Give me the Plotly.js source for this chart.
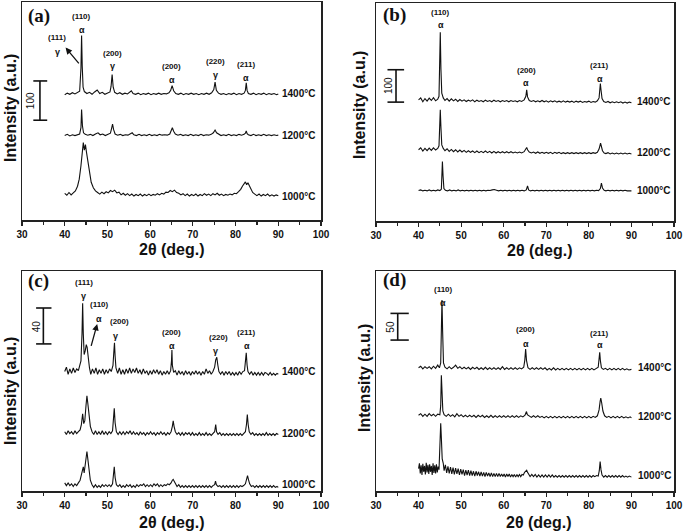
<!DOCTYPE html>
<html><head><meta charset="utf-8">
<script src="https://cdn.plot.ly/plotly-3.0.1.min.js"></script>
<style>html,body{margin:0;padding:0;background:#fff}#chart{width:685px;height:531px}</style>
</head><body><div id="chart"></div>
<script>
// ---------- data: [2theta, intensity (a.u., offset-stacked)] ----------
const a1400 = [[40,319],[40.6,323],[41.2,320],[41.8,324],[42.4,321],[43,324],[43.5,328],[43.8,386],[43.95,470],[44.1,392],[44.3,338],[44.6,327],[45.2,322],[45.8,325],[46.4,320],[47,326],[47.6,331],[48.2,322],[48.8,325],[49.4,320],[50,323],[50.6,326],[50.85,340],[51.1,370],[51.35,338],[51.7,325],[52.3,321],[52.9,324],[53.5,320],[54.1,323],[54.7,321],[55.3,325],[55.6,329],[56,322],[56.6,320],[57.2,323],[57.8,319],[58.4,322],[59,320],[59.6,323],[60.2,319],[60.8,322],[61.4,320],[62,323],[62.6,320],[63.2,322],[63.8,321],[64.4,324],[64.8,330],[65.15,342],[65.5,329],[66,322],[66.6,320],[67.2,323],[67.8,319],[68.4,322],[69,320],[69.6,323],[70.2,320],[70.8,322],[71.4,319],[72,322],[72.6,320],[73.2,323],[73.8,320],[74.4,324],[74.9,332],[75.2,351],[75.5,330],[76,323],[76.6,320],[77.2,322],[77.8,319],[78.4,322],[79,320],[79.6,323],[80.2,319],[80.8,322],[81.4,320],[82,323],[82.3,330],[82.5,349],[82.7,330],[83,322],[83.6,320],[84.2,323],[84.8,319],[85.4,322],[86,320],[86.6,323],[87.2,319],[87.8,322],[88.4,320],[89,322],[89.6,319],[90,321]];
const a1200 = [[40,215],[40.6,218],[41.2,214],[41.8,217],[42.4,215],[43,218],[43.5,219],[43.8,235],[43.95,281],[44.15,240],[44.4,222],[44.8,218],[45.4,216],[46,218],[46.6,215],[47.2,219],[47.8,222],[48.3,217],[48.9,219],[49.5,215],[50.1,218],[50.7,221],[50.95,232],[51.2,244],[51.45,230],[51.8,219],[52.4,216],[53,218],[53.6,215],[54.2,217],[54.8,216],[55.4,220],[55.8,222],[56.2,217],[56.8,215],[57.4,218],[58,215],[58.6,217],[59.2,215],[59.8,218],[60.4,215],[61,217],[61.6,215],[62.2,218],[62.8,216],[63.4,217],[64,216],[64.6,219],[64.9,226],[65.2,235],[65.5,226],[65.9,219],[66.5,216],[67.1,218],[67.7,215],[68.3,217],[68.9,215],[69.5,218],[70.1,215],[70.7,217],[71.3,215],[71.9,218],[72.5,215],[73.1,217],[73.7,216],[74.3,218],[74.8,222],[75.2,229],[75.55,222],[76,218],[76.6,215],[77.2,217],[77.8,215],[78.4,218],[79,215],[79.6,217],[80.2,215],[80.8,218],[81.4,216],[82,218],[82.3,221],[82.5,227],[82.7,220],[83,217],[83.6,215],[84.2,218],[84.8,215],[85.4,217],[86,215],[86.6,218],[87.2,215],[87.8,217],[88.4,215],[89,217],[89.6,215],[90,216]];
const a1000 = [[40,68],[40.5,63],[41,70],[41.5,64],[42,69],[42.5,74],[43,86],[43.4,104],[43.8,138],[44.1,170],[44.35,197],[44.6,178],[44.85,192],[45.1,172],[45.4,148],[45.8,118],[46.2,96],[46.7,82],[47.2,74],[47.7,70],[48.2,66],[48.7,71],[49.2,67],[49.7,72],[50.2,69],[50.7,75],[51.2,72],[51.7,76],[52.2,69],[52.7,71],[53.2,64],[53.7,68],[54.2,63],[54.7,67],[55.2,62],[55.7,66],[56.2,61],[56.7,65],[57.2,62],[57.7,66],[58.2,61],[58.7,65],[59.2,62],[59.7,66],[60.2,62],[60.7,65],[61.2,63],[61.7,67],[62.2,64],[62.7,68],[63.2,66],[63.7,71],[64.2,70],[64.7,75],[65.2,72],[65.7,76],[66.2,70],[66.7,68],[67.2,64],[67.7,67],[68.2,62],[68.7,66],[69.2,61],[69.7,65],[70.2,62],[70.7,66],[71.2,61],[71.7,65],[72.2,62],[72.7,67],[73.2,63],[73.7,66],[74.2,62],[74.7,67],[75.2,64],[75.7,68],[76.2,63],[76.7,66],[77.2,62],[77.7,65],[78.2,63],[78.7,66],[79.2,64],[79.7,68],[80.2,67],[80.7,72],[81.2,78],[81.6,86],[82,92],[82.3,97],[82.6,90],[82.9,95],[83.2,88],[83.6,78],[84,70],[84.5,66],[85,62],[85.5,66],[86,61],[86.5,65],[87,62],[87.5,66],[88,61],[88.5,64],[89,61],[89.5,64],[90,62]];

const b1400 = [[40,374],[40.5,380],[41,368],[41.5,378],[42,370],[42.5,379],[43,372],[43.5,381],[44,371],[44.5,376],[44.8,385],[45.0,470],[45.1,583],[45.25,470],[45.45,395],[45.8,380],[46.2,372],[46.7,378],[47.2,370],[47.7,377],[48.2,371],[48.7,376],[49.2,369],[49.7,375],[50.2,370],[50.7,374],[51.2,369],[51.7,373],[52.2,370],[52.7,374],[53.2,368],[53.7,373],[54.2,369],[54.7,372],[55.2,368],[55.7,373],[56.2,369],[56.7,372],[57.2,368],[57.7,373],[58.2,369],[58.7,372],[59.2,368],[59.7,372],[60.2,369],[60.7,372],[61.2,368],[61.7,372],[62.2,369],[62.7,371],[63.2,368],[63.7,372],[64.2,369],[64.8,374],[65.2,385],[65.4,405],[65.6,383],[66,372],[66.5,369],[67,372],[67.5,368],[68,371],[68.5,368],[69,372],[69.5,368],[70,371],[70.5,367],[71,371],[71.5,368],[72,371],[72.5,367],[73,370],[73.5,367],[74,371],[74.5,367],[75,370],[75.5,367],[76,370],[76.5,366],[77,370],[77.5,367],[78,370],[78.5,366],[79,369],[79.5,367],[80,370],[80.5,366],[81,369],[81.5,367],[82,371],[82.4,380],[82.6,410],[82.7,424],[82.85,405],[83.1,378],[83.5,369],[84,366],[84.5,369],[85,365],[85.5,368],[86,365],[86.5,368],[87,365],[87.5,368],[88,364],[88.5,367],[89,364],[89.5,367],[90,365]];
const b1200 = [[40,220],[40.5,226],[41,216],[41.5,224],[42,217],[42.5,225],[43,218],[43.5,226],[44,219],[44.5,224],[44.8,232],[45.0,290],[45.1,343],[45.25,290],[45.45,235],[45.8,224],[46.2,217],[46.7,223],[47.2,215],[47.7,221],[48.2,214],[48.7,220],[49.2,213],[49.7,219],[50.2,213],[50.7,218],[51.2,212],[51.7,217],[52.2,212],[52.7,216],[53.2,211],[53.7,216],[54.2,211],[54.7,215],[55.2,211],[55.7,216],[56.2,211],[56.7,215],[57.2,210],[57.7,215],[58.2,210],[58.7,214],[59.2,210],[59.7,214],[60.2,210],[60.7,214],[61.2,210],[61.7,214],[62.2,210],[62.7,213],[63.2,210],[63.7,213],[64.2,210],[64.8,214],[65.2,221],[65.4,227],[65.6,220],[66,213],[66.5,210],[67,213],[67.5,209],[68,213],[68.5,209],[69,212],[69.5,209],[70,212],[70.5,209],[71,212],[71.5,208],[72,212],[72.5,209],[73,212],[73.5,208],[74,211],[74.5,208],[75,211],[75.5,208],[76,211],[76.5,208],[77,211],[77.5,208],[78,211],[78.5,208],[79,211],[79.5,208],[80,211],[80.5,208],[81,211],[81.5,209],[82,212],[82.4,222],[82.6,234],[82.75,240],[82.95,230],[83.2,217],[83.6,210],[84,208],[84.5,211],[85,207],[85.5,210],[86,207],[86.5,210],[87,207],[87.5,210],[88,207],[88.5,210],[89,207],[89.5,209],[90,207]];
const b1000 = [[40,94],[40.5,96],[41,93],[41.5,95],[42,93],[42.5,96],[43,93],[43.5,95],[44,93],[44.5,96],[45,94],[45.35,98],[45.5,150],[45.6,184],[45.75,140],[45.95,100],[46.3,95],[46.8,93],[47.3,96],[47.8,93],[48.3,95],[48.8,93],[49.3,96],[49.8,93],[50.3,95],[50.8,93],[51.3,95],[51.8,93],[52.3,95],[52.8,93],[53.3,95],[53.8,93],[54.3,95],[54.8,93],[55.3,95],[55.8,93],[56.3,95],[56.8,94],[57.3,96],[57.8,97],[58.3,95],[58.8,93],[59.3,95],[59.8,93],[60.3,95],[60.8,93],[61.3,95],[61.8,93],[62.3,95],[62.8,93],[63.3,95],[63.8,93],[64.3,95],[64.8,93],[65.3,96],[65.6,108],[65.85,96],[66.3,93],[66.8,95],[67.3,93],[67.8,95],[68.3,93],[68.8,95],[69.3,93],[69.8,95],[70.3,93],[70.8,95],[71.3,93],[71.8,95],[72.3,93],[72.8,95],[73.3,93],[73.8,95],[74.3,93],[74.8,95],[75.3,93],[75.8,95],[76.3,93],[76.8,95],[77.3,93],[77.8,95],[78.3,93],[78.8,95],[79.3,93],[79.8,95],[80.3,93],[80.8,95],[81.3,93],[81.8,95],[82.3,94],[82.7,100],[82.95,117],[83.2,102],[83.6,95],[84,93],[84.5,95],[85,93],[85.5,95],[86,93],[86.5,95],[87,93],[87.5,95],[88,93],[88.5,95],[89,93],[89.5,94],[90,93]];

const c1400 = [[40,133],[40.4,138],[40.8,130],[41.2,136],[41.6,131],[42,137],[42.4,132],[42.8,136],[43.2,134],[43.5,139],[43.8,145],[44.05,175],[44.2,209],[44.35,175],[44.55,152],[44.8,156],[45.05,163],[45.25,160],[45.5,145],[45.8,137],[46.1,130],[46.5,136],[46.9,131],[47.3,137],[47.7,130],[48.1,135],[48.5,131],[48.9,136],[49.3,130],[49.7,135],[50.1,131],[50.5,136],[50.9,133],[51.3,140],[51.5,155],[51.65,165],[51.8,150],[52.0,137],[52.4,131],[52.8,137],[53.2,130],[53.6,135],[54,130],[54.4,136],[54.8,131],[55.2,137],[55.6,131],[56,136],[56.4,132],[56.8,137],[57.2,131],[57.6,135],[58,130],[58.4,136],[58.8,131],[59.2,134],[59.6,129],[60,134],[60.4,130],[60.8,135],[61.2,131],[61.6,135],[62,130],[62.4,134],[62.8,129],[63.2,133],[63.6,130],[64,134],[64.4,130],[64.8,134],[65.0,145],[65.1,157],[65.2,140],[65.5,132],[65.9,134],[66.3,129],[66.7,134],[67.1,130],[67.5,133],[67.9,129],[68.3,134],[68.7,130],[69.1,133],[69.5,129],[69.9,133],[70.3,130],[70.7,134],[71.1,130],[71.5,133],[71.9,129],[72.3,133],[72.7,130],[73.1,136],[73.5,131],[73.9,134],[74.3,130],[74.7,133],[75.1,138],[75.35,146],[75.6,149],[75.85,140],[76.1,133],[76.5,130],[76.9,133],[77.3,129],[77.7,133],[78.1,130],[78.5,133],[78.9,129],[79.3,132],[79.7,129],[80.1,132],[80.5,129],[80.9,133],[81.3,130],[81.7,133],[82.1,134],[82.3,142],[82.5,154],[82.7,140],[82.9,133],[83.3,130],[83.7,133],[84.1,129],[84.5,132],[84.9,129],[85.3,132],[85.7,129],[86.1,132],[86.5,129],[86.9,132],[87.3,131],[87.7,129],[88.1,132],[88.5,129],[88.9,131],[89.3,129],[89.7,131],[90,130]];
const c1200 = [[40,66],[40.4,63],[40.8,67],[41.2,64],[41.6,66],[42,63],[42.4,67],[42.8,64],[43.2,66],[43.6,68],[43.9,74],[44.2,86],[44.45,75],[44.7,78],[45.0,96],[45.2,106],[45.4,98],[45.7,82],[46.0,72],[46.4,66],[46.8,63],[47.2,67],[47.6,63],[48,66],[48.4,63],[48.8,67],[49.2,63],[49.6,66],[50,63],[50.4,66],[50.8,64],[51.2,67],[51.45,80],[51.6,92],[51.8,76],[52.1,66],[52.5,63],[52.9,66],[53.3,63],[53.7,66],[54.1,63],[54.5,66],[54.9,64],[55.3,67],[55.7,63],[56.1,66],[56.5,63],[56.9,65],[57.3,62],[57.7,66],[58.1,63],[58.5,65],[58.9,62],[59.3,65],[59.7,63],[60.1,66],[60.5,63],[60.9,65],[61.3,62],[61.7,65],[62.1,63],[62.5,66],[62.9,63],[63.3,65],[63.7,62],[64.1,65],[64.5,63],[64.9,66],[65.2,72],[65.4,78],[65.6,72],[65.9,66],[66.3,63],[66.7,65],[67.1,62],[67.5,65],[67.9,62],[68.3,65],[68.7,63],[69.1,65],[69.5,62],[69.9,65],[70.3,62],[70.7,64],[71.1,62],[71.5,65],[71.9,62],[72.3,64],[72.7,62],[73.1,65],[73.5,62],[73.9,64],[74.3,62],[74.7,64],[75.1,66],[75.35,74],[75.55,66],[75.9,63],[76.3,65],[76.7,62],[77.1,64],[77.5,62],[77.9,64],[78.3,62],[78.7,64],[79.1,62],[79.5,64],[79.9,62],[80.3,64],[80.7,62],[81.1,64],[81.5,62],[81.9,64],[82.3,66],[82.55,74],[82.75,85],[82.95,74],[83.2,66],[83.6,63],[84,65],[84.4,62],[84.8,64],[85.2,62],[85.6,64],[86,62],[86.4,64],[86.8,62],[87.2,65],[87.6,62],[88,64],[88.4,62],[88.8,64],[89.2,62],[89.6,64],[90,63]];
const c1000 = [[40,9],[40.4,6],[40.8,9],[41.2,6],[41.6,8],[42,5],[42.4,8],[42.8,6],[43.2,9],[43.6,12],[43.9,18],[44.2,25],[44.35,27],[44.55,20],[44.8,28],[45.0,38],[45.2,44],[45.4,36],[45.7,22],[46.0,12],[46.4,7],[46.8,4],[47.2,7],[47.6,4],[48,6],[48.4,4],[48.8,7],[49.2,5],[49.6,7],[50,5],[50.4,7],[50.8,5],[51.2,8],[51.45,18],[51.6,27],[51.8,15],[52.1,7],[52.5,5],[52.9,7],[53.3,4],[53.7,6],[54.1,4],[54.5,7],[54.9,5],[55.3,7],[55.7,4],[56.1,6],[56.5,4],[56.9,7],[57.3,5],[57.7,7],[58.1,6],[58.5,8],[58.9,5],[59.3,7],[59.7,5],[60.1,7],[60.5,5],[60.9,8],[61.3,6],[61.7,8],[62.1,5],[62.5,7],[62.9,5],[63.3,7],[63.7,6],[64.1,8],[64.5,7],[64.9,9],[65.2,12],[65.4,13],[65.6,11],[65.9,8],[66.3,5],[66.7,7],[67.1,4],[67.5,6],[67.9,4],[68.3,6],[68.7,4],[69.1,6],[69.5,4],[69.9,6],[70.3,4],[70.7,6],[71.1,4],[71.5,6],[71.9,4],[72.3,6],[72.7,4],[73.1,6],[73.5,4],[73.9,6],[74.3,4],[74.7,6],[75.1,7],[75.3,11],[75.5,7],[75.9,5],[76.3,6],[76.7,4],[77.1,6],[77.5,4],[77.9,6],[78.3,4],[78.7,6],[79.1,4],[79.5,6],[79.9,4],[80.3,6],[80.7,4],[81.1,6],[81.5,5],[81.9,6],[82.3,8],[82.55,12],[82.8,17],[83.0,13],[83.3,8],[83.7,5],[84.1,6],[84.5,4],[84.9,6],[85.3,4],[85.7,6],[86.1,4],[86.5,6],[86.9,4],[87.3,6],[87.7,4],[88.1,6],[88.5,4],[88.9,6],[89.3,4],[89.7,5],[90,4]];

const d1400 = [[40,231],[40.5,234],[41,229],[41.5,233],[42,230],[42.5,233],[43,229],[43.5,234],[44,230],[44.5,236],[44.9,231],[45.2,240],[45.4,320],[45.5,358],[45.65,300],[45.85,240],[46.2,232],[46.7,229],[47.2,233],[47.7,229],[48.2,232],[48.7,236],[49.2,230],[49.7,233],[50.2,229],[50.7,232],[51.2,229],[51.7,232],[52.2,228],[52.7,232],[53.2,229],[53.7,232],[54.2,228],[54.7,231],[55.2,228],[55.7,232],[56.2,228],[56.7,231],[57.2,228],[57.7,231],[58.2,228],[58.7,231],[59.2,228],[59.7,233],[60.2,228],[60.7,231],[61.2,228],[61.7,231],[62.2,228],[62.7,231],[63.2,228],[63.7,231],[64.2,229],[64.7,232],[64.95,245],[65.15,266],[65.35,245],[65.7,231],[66.2,228],[66.7,231],[67.2,228],[67.7,231],[68.2,228],[68.7,231],[69.2,228],[69.7,231],[70.2,227],[70.7,230],[71.2,227],[71.7,231],[72.2,227],[72.7,230],[73.2,227],[73.7,230],[74.2,227],[74.7,230],[75.2,227],[75.7,230],[76.2,227],[76.7,230],[77.2,227],[77.7,230],[78.2,227],[78.7,230],[79.2,227],[79.7,230],[80.2,227],[80.7,230],[81.2,227],[81.7,230],[82.2,232],[82.4,248],[82.55,260],[82.7,245],[82.95,231],[83.4,228],[83.9,230],[84.4,227],[84.9,230],[85.4,227],[85.9,230],[86.4,227],[86.9,230],[87.4,227],[87.9,230],[88.4,227],[88.9,229],[89.4,227],[90,228]];
const d1200 = [[40,142],[40.5,145],[41,140],[41.5,144],[42,140],[42.5,145],[43,141],[43.5,144],[44,140],[44.5,144],[45,143],[45.2,160],[45.35,217],[45.5,190],[45.7,150],[46,143],[46.5,140],[47,144],[47.5,140],[48,143],[48.5,139],[49,145],[49.5,140],[50,143],[50.5,139],[51,142],[51.5,139],[52,142],[52.5,139],[53,142],[53.5,138],[54,142],[54.5,139],[55,142],[55.5,138],[56,141],[56.5,138],[57,142],[57.5,138],[58,141],[58.5,138],[59,141],[59.5,138],[60,141],[60.5,138],[61,141],[61.5,138],[62,141],[62.5,138],[63,141],[63.5,138],[64,141],[64.5,139],[65,142],[65.2,146],[65.35,149],[65.55,143],[66,140],[66.5,138],[67,141],[67.5,138],[68,141],[68.5,138],[69,140],[69.5,137],[70,140],[70.5,137],[71,140],[71.5,137],[72,140],[72.5,137],[73,140],[73.5,137],[74,140],[74.5,137],[75,140],[75.5,137],[76,140],[76.5,137],[77,140],[77.5,137],[78,140],[78.5,137],[79,140],[79.5,137],[80,140],[80.5,137],[81,140],[81.5,138],[82,141],[82.4,152],[82.65,168],[82.8,174],[83.0,166],[83.3,150],[83.7,141],[84.2,138],[84.7,140],[85.2,137],[85.7,140],[86.2,137],[86.7,140],[87.2,137],[87.7,140],[88.2,137],[88.7,139],[89.2,137],[89.7,139],[90,137]];
const d1000 = [[40,42],[40.2,52],[40.4,33],[40.6,48],[40.8,30],[41,51],[41.2,36],[41.4,47],[41.6,31],[41.8,53],[42,35],[42.2,49],[42.4,32],[42.6,50],[42.8,36],[43,47],[43.2,30],[43.4,52],[43.6,34],[43.8,48],[44,33],[44.2,50],[44.4,35],[44.6,46],[44.8,40],[45.0,80],[45.2,127],[45.35,100],[45.55,60],[45.8,52],[46,38],[46.3,49],[46.6,34],[46.9,46],[47.2,33],[47.5,45],[47.8,32],[48.1,44],[48.4,31],[48.7,43],[49,32],[49.3,42],[49.6,30],[49.9,41],[50.2,31],[50.5,40],[50.8,29],[51.1,39],[51.4,30],[51.7,39],[52,29],[52.3,38],[52.6,29],[52.9,37],[53.2,28],[53.5,37],[53.8,29],[54.1,36],[54.4,28],[54.7,36],[55,28],[55.3,35],[55.6,27],[55.9,35],[56.2,28],[56.5,34],[56.8,27],[57.1,34],[57.4,27],[57.7,33],[58,27],[58.3,33],[58.6,27],[58.9,33],[59.2,27],[59.5,32],[59.8,27],[60.1,32],[60.4,26],[60.7,32],[61,27],[61.3,32],[61.6,26],[61.9,31],[62.2,27],[62.5,31],[62.8,26],[63.1,31],[63.4,27],[63.7,31],[64,27],[64.3,31],[64.6,30],[64.9,35],[65.2,38],[65.4,39],[65.6,35],[65.9,31],[66.2,27],[66.6,31],[67,27],[67.4,31],[67.8,26],[68.2,30],[68.6,26],[69,30],[69.4,26],[69.8,30],[70.2,26],[70.6,30],[71,26],[71.4,30],[71.8,26],[72.2,29],[72.6,26],[73,29],[73.4,26],[73.8,29],[74.2,26],[74.6,29],[75,26],[75.4,29],[75.8,26],[76.2,29],[76.6,26],[77,29],[77.4,26],[77.8,29],[78.2,26],[78.6,29],[79,26],[79.4,29],[79.8,26],[80.2,29],[80.6,26],[81,29],[81.4,27],[81.8,29],[82.2,28],[82.45,38],[82.65,55],[82.85,40],[83.1,30],[83.5,26],[83.9,29],[84.3,26],[84.7,29],[85.1,26],[85.5,29],[85.9,26],[86.3,29],[86.7,26],[87.1,29],[87.5,26],[87.9,29],[88.3,26],[88.7,28],[89.1,26],[89.5,28],[90,26]];

const temperatures = ['1400°C', '1200°C', '1000°C'];
const scaleValues = [100, 100, 40, 50];
const xTickVals = [30, 40, 50, 60, 70, 80, 90, 100];
const panelLetters = ['(a)', '(b)', '(c)', '(d)'];

// ---------- layout / labels ----------
const W = 685, H = 531;
const px2x = v => v / W, py2y = v => 1 - v / H;
const FS = 'Liberation Sans, Arial, sans-serif';
const panels = [
  { ax: '', xdom: [22, 321], ydom: [220, 2], yr: [0, 555], series: [a1400, a1200, a1000],
    tempX: 90.4, tempY: [321, 214, 61],
    bar: { x: 34.2, c0: 32.65, c1: 35.9, y0: 254, y1: 354, lx: 32.0 },
    letter: [31.0, 519],
    peaks: [['(110)', 44.0, 518], ['α', 44.0, 483], ['(111)', 38.3, 464], ['γ', 38.3, 428],
            ['(200)', 51.2, 424], ['γ', 51.2, 391], ['(200)', 65.1, 391], ['α', 65.1, 357],
            ['(220)', 75.2, 403], ['γ', 75.2, 370], ['(211)', 82.5, 395], ['α', 82.5, 361]],
    arrow: { x: 40.2, y: 439, ax: 43.6, ay: 395 },
    xt: [172, 249], yt: [10, 108] },
  { ax: '2', xdom: [376, 674], ydom: [221, 3], yr: [0, 673], series: [b1400, b1200, b1000],
    tempX: 90.8, tempY: [369, 211, 94],
    bar: { x: 34.7, c0: 32.7, c1: 36.6, y0: 367, y1: 467, lx: 33.1 },
    letter: [31.2, 637],
    peaks: [['(110)', 45.2, 644], ['α', 45.2, 606], ['(200)', 65.3, 465], ['α', 65.3, 426],
            ['(211)', 82.6, 479], ['α', 82.6, 438]],
    arrow: null,
    xt: [540, 250], yt: [359, 105] },
  { ax: '3', xdom: [22, 321], ydom: [491, 271], yr: [0, 245], series: [c1400, c1200, c1000],
    tempX: 90.4, tempY: [132.6, 64, 7.6],
    bar: { x: 35.0, c0: 33.3, c1: 36.9, y0: 163.8, y1: 203.8, lx: 33.6 },
    letter: [31.0, 234],
    peaks: [['(111)', 44.5, 232], ['γ', 44.5, 217], ['(110)', 48.1, 208], ['α', 48.1, 192],
            ['(200)', 52.9, 189], ['γ', 51.8, 173], ['(200)', 65.1, 177], ['α', 65.1, 162],
            ['(220)', 76.0, 171], ['γ', 75.4, 156], ['(211)', 82.5, 177], ['α', 82.6, 162]],
    arrow: { x: 47.6, y: 186, ax: 46.1, ay: 160 },
    xt: [172, 522], yt: [10, 391] },
  { ax: '4', xdom: [376, 674], ydom: [491, 271], yr: [0, 412.5], series: [d1400, d1200, d1000],
    tempX: 91.0, tempY: [231, 139, 29],
    bar: { x: 35.1, c0: 33.4, c1: 37.7, y0: 283, y1: 333, lx: 33.5 },
    letter: [31.2, 396],
    peaks: [['(110)', 45.9, 377], ['α', 45.7, 352], ['(200)', 65.2, 302], ['α', 65.2, 276],
            ['(211)', 82.6, 296], ['α', 82.6, 274]],
    arrow: null,
    xt: [539, 522], yt: [364, 378] }
];

const traces = [], shapes = [], annotations = [];
const layout = {
  width: W, height: H, margin: { l: 0, r: 0, t: 0, b: 0 },
  paper_bgcolor: '#fff', plot_bgcolor: '#fff', showlegend: false,
  font: { family: FS, color: '#111' }
};

panels.forEach((p, i) => {
  const xa = 'x' + p.ax, ya = 'y' + p.ax;
  layout['xaxis' + p.ax] = {
    domain: [px2x(p.xdom[0]), px2x(p.xdom[1])], anchor: ya, range: [30, 100],
    tickvals: xTickVals, ticks: 'outside', ticklen: 4, tickwidth: 1.2, tickcolor: '#222',
    minor: { dtick: 5, tick0: 30, ticks: 'outside', ticklen: 3, tickwidth: 1.2, tickcolor: '#222' },
    showline: true, mirror: true, linecolor: '#222', linewidth: 1.5,
    showgrid: false, zeroline: false,
    tickfont: { family: FS, size: 10, weight: 'bold', color: '#111' }
  };
  layout['yaxis' + p.ax] = {
    domain: [py2y(p.ydom[0]), py2y(p.ydom[1])], anchor: xa, range: p.yr,
    showticklabels: false, ticks: '', showline: true, mirror: true,
    linecolor: '#222', linewidth: 1.5, showgrid: false, zeroline: false
  };
  p.series.forEach((s, k) => {
    traces.push({ type: 'scatter', mode: 'lines', xaxis: xa, yaxis: ya,
      x: s.map(q => q[0]), y: s.map(q => q[1]),
      line: { color: '#111', width: 1.1 }, hoverinfo: 'skip' });
    annotations.push({ xref: xa, yref: ya, x: p.tempX, y: p.tempY[k], text: temperatures[k],
      showarrow: false, xanchor: 'left', yanchor: 'middle',
      font: { family: FS, size: 10, weight: 'bold', color: '#111' } });
  });
  // scale bar
  const b = p.bar;
  shapes.push({ type: 'line', xref: xa, yref: ya, x0: b.x, x1: b.x, y0: b.y0, y1: b.y1, line: { color: '#111', width: 1.6 } });
  shapes.push({ type: 'line', xref: xa, yref: ya, x0: b.c0, x1: b.c1, y0: b.y0, y1: b.y0, line: { color: '#111', width: 1.6 } });
  shapes.push({ type: 'line', xref: xa, yref: ya, x0: b.c0, x1: b.c1, y0: b.y1, y1: b.y1, line: { color: '#111', width: 1.6 } });
  annotations.push({ xref: xa, yref: ya, x: b.lx, y: (b.y0 + b.y1) / 2, text: String(scaleValues[i]),
    textangle: -90, showarrow: false, xanchor: 'center', yanchor: 'middle',
    font: { family: FS, size: 10, color: '#111' } });
  // panel letter
  annotations.push({ xref: xa, yref: ya, x: p.letter[0], y: p.letter[1], text: panelLetters[i],
    showarrow: false, xanchor: 'left', yanchor: 'middle',
    font: { family: 'Liberation Serif, Times New Roman, serif', size: 19, weight: 'bold', color: '#111' } });
  // peak labels
  p.peaks.forEach(pk => {
    const greek = pk[0].length === 1;
    annotations.push({ xref: xa, yref: ya, x: pk[1], y: pk[2], text: pk[0], showarrow: false,
      xanchor: 'center', yanchor: 'middle',
      font: { family: FS, size: greek ? 9 : 8, weight: 'bold', color: '#111' } });
  });
  if (p.arrow) {
    annotations.push({ xref: xa, yref: ya, axref: xa, ayref: ya, x: p.arrow.x, y: p.arrow.y,
      ax: p.arrow.ax, ay: p.arrow.ay, text: '', showarrow: true, arrowhead: 2, arrowsize: 1,
      arrowwidth: 1.3, arrowcolor: '#111', standoff: 0, startstandoff: 0 });
  }
  // axis titles
  annotations.push({ xref: 'paper', yref: 'paper', x: px2x(p.xt[0]), y: py2y(p.xt[1]),
    text: '2θ (deg.)', showarrow: false, xanchor: 'center', yanchor: 'middle',
    font: { family: FS, size: 16, weight: 'bold', color: '#111' } });
  annotations.push({ xref: 'paper', yref: 'paper', x: px2x(p.yt[0]), y: py2y(p.yt[1]),
    text: 'Intensity (a.u.)', textangle: -90, showarrow: false, xanchor: 'center', yanchor: 'middle',
    font: { family: FS, size: 16, weight: 'bold', color: '#111' } });
});

layout.shapes = shapes;
layout.annotations = annotations;
Plotly.newPlot('chart', traces, layout, { displayModeBar: false, staticPlot: true });
</script>
</body></html>
